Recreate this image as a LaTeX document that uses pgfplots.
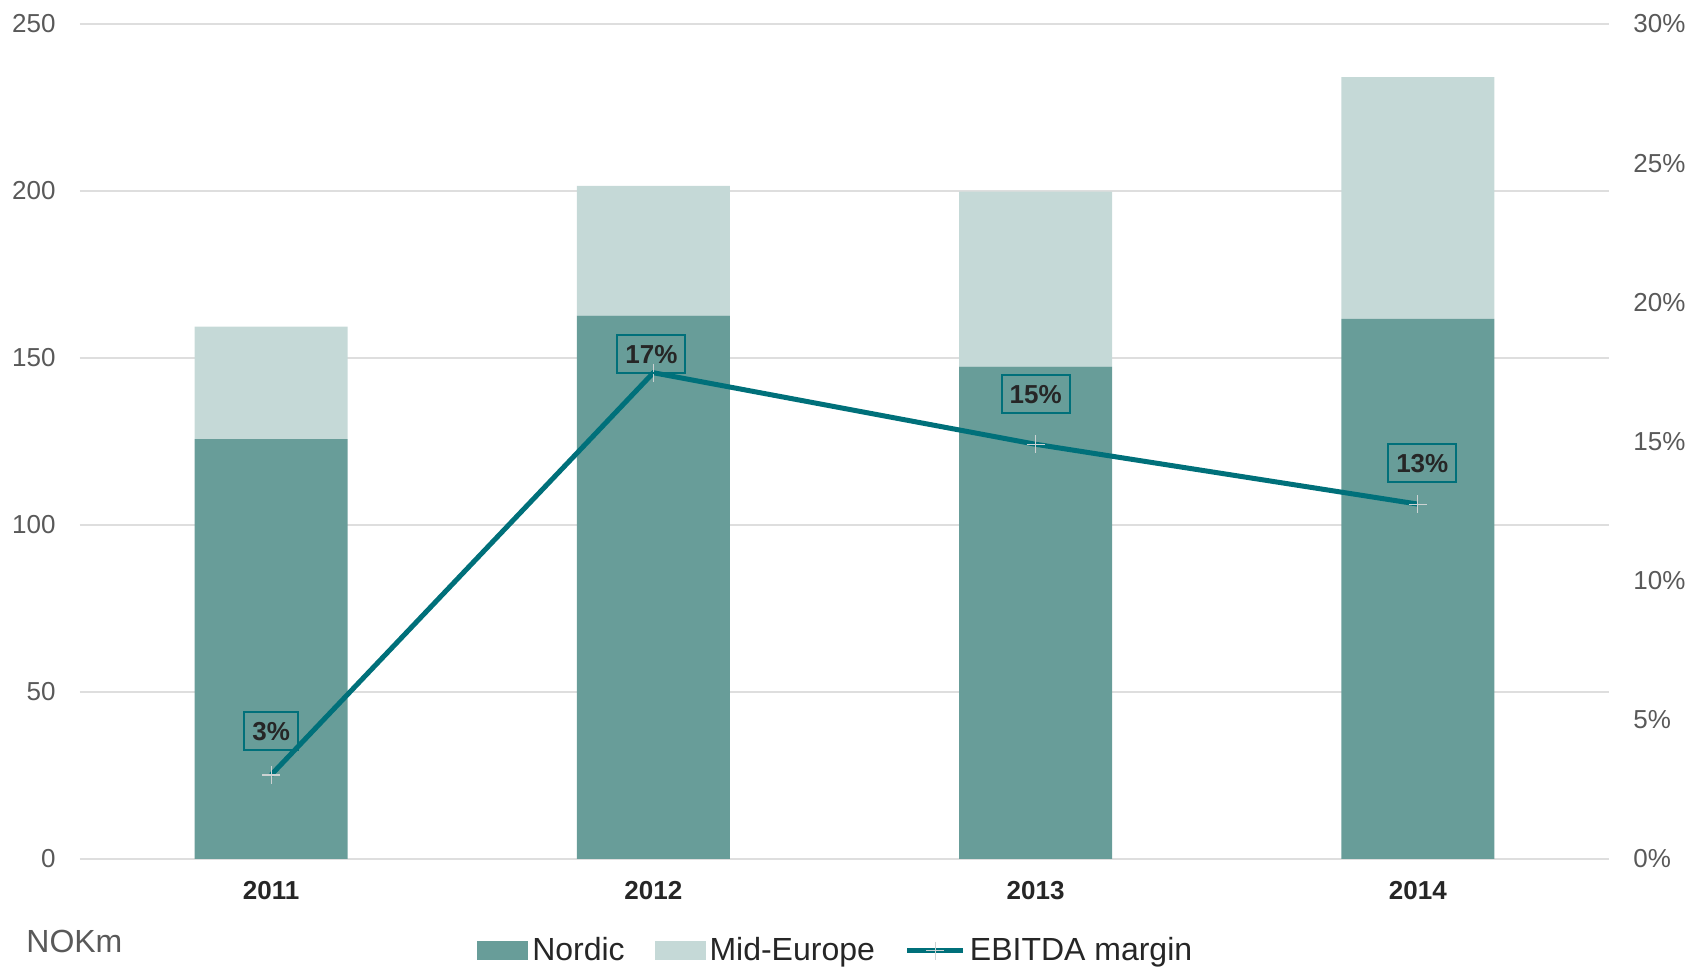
\documentclass[border=0pt]{standalone}
\usepackage{fontspec}
\setmainfont{Liberation Sans}
\usepackage{pgfplots}
\pgfplotsset{compat=1.18}
\usepackage{pgfplotstable}

\definecolor{nordic}{RGB}{104,157,153}
\definecolor{mideur}{RGB}{197,217,215}
\definecolor{marginc}{RGB}{0,112,122}
\definecolor{gridc}{RGB}{222,222,222}
\definecolor{tickc}{RGB}{89,89,89}
\definecolor{labc}{RGB}{38,38,38}
\definecolor{markc}{RGB}{205,210,210}

\pgfplotsset{
    marginlegend/.style={
        legend image code/.code={
            \draw[mark repeat=2, mark phase=2, ##1] plot coordinates {(0pt,0pt) (14pt,0pt) (28pt,0pt)};
        }
    },
}

% NOKm per year
\pgfplotstableread{
x nordic mid
0 125.7 33.7
1 162.7 38.8
2 147.4 52.4
3 161.7 72.4
}\revenue

% EBITDA margin in %, with label offsets (pt)
\pgfplotstableread{
x margin dy dx
0 3.02 21.9 0
1 17.47 9.5 -1
2 14.90 25.0 0
3 12.75 20.5 2.2
}\ebitda

\begin{document}
\begin{tikzpicture}
\path[use as bounding box] (-40pt,-54pt) rectangle (807pt,429.5pt);

\begin{axis}[
    at={(0,0)}, anchor=south west,
    scale only axis,
    width=764.5pt, height=417.5pt,
    xmin=-0.5, xmax=3.5,
    ymin=0, ymax=250,
    ybar stacked, bar width=76.5pt,
    xtick={0,1,2,3},
    xticklabels={2011,2012,2013,2014},
    ytick={0,50,...,250},
    axis line style={draw=none},
    major tick length=0pt,
    ymajorgrids,
    grid style={color=gridc, line width=0.8pt},
    /pgf/number format/assume math mode=true,
    yticklabel style={font=\fontsize{13}{13}\selectfont, text=tickc, anchor=east, inner sep=0pt, xshift=-12pt},
    xticklabel style={font=\bfseries\fontsize{13}{13}\selectfont, text=labc, anchor=north, inner sep=0pt, yshift=-11.2pt},
]
\addplot[fill=nordic, draw=none] table[x=x, y=nordic] {\revenue};
\addplot[fill=mideur, draw=none] table[x=x, y=mid] {\revenue};
\end{axis}

\begin{axis}[
    at={(0,0)}, anchor=south west,
    scale only axis,
    width=764.5pt, height=417.5pt,
    xmin=-0.5, xmax=3.5,
    ymin=0, ymax=30,
    axis x line=none,
    axis y line*=right,
    axis line style={draw=none},
    major tick length=0pt,
    ytick={0,5,...,30},
    yticklabels={0\%,5\%,10\%,15\%,20\%,25\%,30\%},
    yticklabel style={font=\fontsize{13}{13}\selectfont, text=tickc, anchor=west, inner sep=0pt, xshift=12pt},
    /pgf/number format/assume math mode=true,
    clip=false,
    legend style={
        at={(0.495,-0.110)}, anchor=center,
        draw=none, fill=none,
        legend columns=-1,
        font=\fontsize{16}{16}\selectfont,
        text=labc,
        /tikz/every even column/.append style={column sep=13pt},
        nodes={inner sep=2pt},
    },
]
\addlegendimage{legend image code/.code={\fill[nordic] (0pt,-4.5pt) rectangle (25pt,4.5pt);}}
\addlegendentry{Nordic}
\addlegendimage{legend image code/.code={\fill[mideur] (0pt,-4.5pt) rectangle (25pt,4.5pt);}}
\addlegendentry{Mid-Europe}
\addplot[
    color=marginc, line width=2.5pt,
    mark=+, mark size=4.5pt,
    mark options={color=markc, line width=0.6pt},
    marginlegend,
    visualization depends on={\thisrow{dy} \as \dy},
    visualization depends on={\thisrow{dx} \as \dx},
    point meta=y,
    nodes near coords={\pgfmathprintnumber[fixed,precision=0]{\pgfplotspointmeta}\%},
    every node near coord/.append style={
        anchor=center, yshift=\dy pt, xshift=\dx pt,
        draw=marginc, line width=1pt, fill=none,
        inner xsep=4pt, inner ysep=4.7pt,
        text height=9.4pt, text depth=0pt,
        font=\bfseries\fontsize{13}{13}\selectfont, text=labc,
    },
] table[x=x, y=margin] {\ebitda};
\addlegendentry{EBITDA margin}
\end{axis}

\node[anchor=base west, inner sep=0pt, text=tickc, font=\fontsize{16}{16}\selectfont] at (-27pt,-47pt) {NOKm};
\end{tikzpicture}
\end{document}
